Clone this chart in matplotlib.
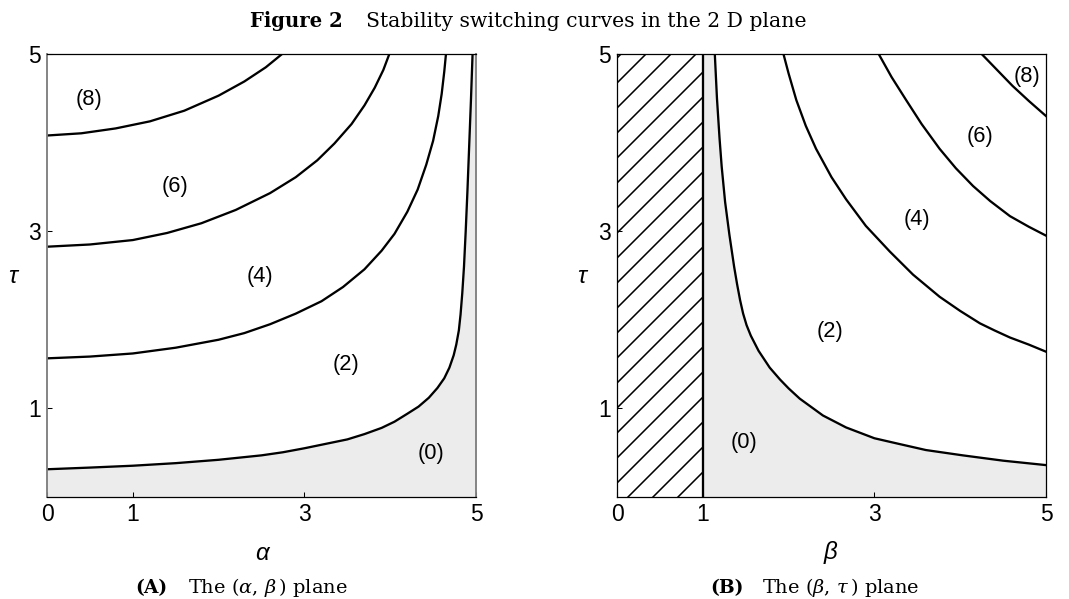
import matplotlib
matplotlib.use("Agg")
import matplotlib.pyplot as plt
import numpy as np

# ---- data ----
# panel A: tau against alpha, curves (0), (2), (4), (6)
a_c0 = [0, 0.5, 1.0, 1.5, 2.0, 2.5, 2.75, 3.0, 3.25, 3.5, 3.7, 3.9, 4.05, 4.2, 4.33, 4.45, 4.55, 4.63,
        4.69, 4.74, 4.77, 4.80, 4.82, 4.84, 4.86, 4.88, 4.90, 4.92, 4.94, 4.96]
t_c0 = [0.313, 0.332, 0.353, 0.382, 0.42, 0.47, 0.505, 0.55, 0.60, 0.65, 0.71, 0.78, 0.85, 0.94, 1.02,
        1.12, 1.23, 1.34, 1.46, 1.6, 1.72, 1.88, 2.06, 2.3, 2.6, 3.0, 3.45, 3.95, 4.45, 5.0]
a_c2 = [0, 0.5, 1.0, 1.5, 2.0, 2.3, 2.6, 2.9, 3.2, 3.45, 3.7, 3.9, 4.05, 4.2, 4.32, 4.42, 4.5, 4.56,
        4.6, 4.63, 4.65]
t_c2 = [1.565, 1.585, 1.62, 1.685, 1.775, 1.85, 1.95, 2.07, 2.21, 2.37, 2.57, 2.78, 2.97, 3.22, 3.47,
        3.75, 4.02, 4.3, 4.55, 4.8, 5.0]
a_c4 = [0, 0.5, 1.0, 1.4, 1.8, 2.2, 2.6, 2.9, 3.15, 3.35, 3.55, 3.7, 3.82, 3.92, 3.99]
t_c4 = [2.825, 2.85, 2.9, 2.98, 3.09, 3.24, 3.43, 3.61, 3.8, 3.99, 4.21, 4.42, 4.62, 4.82, 5.0]
a_c6 = [0, 0.4, 0.8, 1.2, 1.6, 2.0, 2.3, 2.55, 2.74]
t_c6 = [4.08, 4.105, 4.16, 4.24, 4.36, 4.53, 4.69, 4.85, 5.0]

# panel B: tau against beta
b_c0 = [1.14, 1.165, 1.195, 1.22, 1.26, 1.31, 1.365, 1.40, 1.435, 1.47, 1.51, 1.56, 1.65, 1.78, 1.9,
        2.0, 2.13, 2.4, 2.67, 3.0, 3.26, 3.6, 4.03, 4.5, 5.0]
tb_c0 = [5.0, 4.5, 4.05, 3.73, 3.33, 2.96, 2.6, 2.4, 2.22, 2.07, 1.94, 1.82, 1.65, 1.46, 1.326,
         1.226, 1.11, 0.92, 0.785, 0.663, 0.605, 0.53, 0.47, 0.41, 0.36]
b_c2 = [1.94, 2.0, 2.09, 2.2, 2.32, 2.5, 2.67, 2.9, 3.18, 3.45, 3.76, 4.0, 4.23, 4.4, 4.58, 4.8, 5.0]
tb_c2 = [5.0, 4.78, 4.48, 4.19, 3.93, 3.61, 3.36, 3.06, 2.77, 2.51, 2.26, 2.1, 1.96, 1.88, 1.8, 1.72, 1.64]
b_c4 = [3.05, 3.2, 3.37, 3.55, 3.76, 3.95, 4.15, 4.35, 4.58, 4.8, 5.0]
tb_c4 = [5.0, 4.74, 4.48, 4.21, 3.93, 3.71, 3.51, 3.34, 3.17, 3.05, 2.95]
b_c6 = [4.25, 4.45, 4.61, 4.8, 5.0]
tb_c6 = [5.0, 4.8, 4.64, 4.47, 4.3]

labels = ["(0)", "(2)", "(4)", "(6)", "(8)"]
lab_a = [(4.48, 0.49), (3.49, 1.49), (2.48, 2.49), (1.49, 3.5), (0.49, 4.49)]
lab_b = [(1.48, 0.61), (2.48, 1.87), (3.49, 3.13), (4.23, 4.07), (4.78, 4.75)]

xticks = [0, 1, 3, 5]
yticks = [1, 3, 5]

plt.rcParams['font.family'] = ['Liberation Sans', 'DejaVu Sans']
plt.rcParams['mathtext.fontset'] = 'dejavuserif'
plt.rcParams['hatch.linewidth'] = 0.75
plt.rcParams['hatch.color'] = 'black'

W, H = 1069, 599
fig = plt.figure(figsize=(W / 150, H / 150), dpi=150)
axA = fig.add_axes([47 / W, 102 / H, 429 / W, 443 / H])
axB = fig.add_axes([617 / W, 102 / H, 429 / W, 443 / H])

grey = '#ececec'

# panel A
axA.fill(np.r_[a_c0, 5, 5, 0], np.r_[t_c0, 5, 0, 0], color=grey, lw=0)
for xs, ys in [(a_c0, t_c0), (a_c2, t_c2), (a_c4, t_c4), (a_c6, t_c6)]:
    axA.plot(xs, ys, color='black', lw=1.1, solid_joinstyle='round')
for lab, (x, y) in zip(labels, lab_a):
    axA.text(x, y, lab, fontsize=10.5, ha='center', va='center')

# panel B
axB.fill(np.r_[1, b_c0, 5, 1], np.r_[5, tb_c0, 0, 0], color=grey, lw=0)
axB.fill_between([0, 1], 0, 5, facecolor='white', edgecolor='black', hatch='//', lw=0)
axB.axvline(1, color='black', lw=1.1)
for xs, ys in [(b_c0, tb_c0), (b_c2, tb_c2), (b_c4, tb_c4), (b_c6, tb_c6)]:
    axB.plot(xs, ys, color='black', lw=1.1, solid_joinstyle='round')
for lab, (x, y) in zip(labels, lab_b):
    axB.text(x, y, lab, fontsize=10.5, ha='center', va='center')

for ax in (axA, axB):
    ax.set_xlim(0, 5)
    ax.set_ylim(0, 5)
    ax.set_xticks(xticks)
    ax.set_yticks(yticks)
    ax.tick_params(direction='in', length=2.5, width=0.5, labelsize=11, pad=3)
    for s in ax.spines.values():
        s.set_linewidth(0.6)
for side in ('left', 'right'):
    axA.spines[side].set_color('#808080')
    axA.spines[side].set_linewidth(0.9)

# axis labels
fig.text(262 / W, 1 - 553 / H, 'α', style='italic', fontsize=11.5, ha='center', va='center')
fig.text(13 / W, 1 - 277 / H, 'τ', style='italic', fontsize=11.5, ha='center', va='center')
fig.text(830 / W, 1 - 553 / H, 'β', style='italic', fontsize=11.5, ha='center', va='center')
fig.text(582 / W, 1 - 277 / H, 'τ', style='italic', fontsize=11.5, ha='center', va='center')

# title and captions
fig.text(343 / W, 1 - 27 / H, 'Figure 2', family='DejaVu Serif', weight='bold', fontsize=9.4,
         ha='right', va='baseline')
fig.text(366 / W, 1 - 27 / H, 'Stability switching curves in the 2 D plane', family='DejaVu Serif',
         fontsize=9.8, ha='left', va='baseline')
fig.text(167 / W, 1 - 593 / H, '(A)', family='DejaVu Serif', weight='bold', fontsize=9.0,
         ha='right', va='baseline')
fig.text(188 / W, 1 - 593 / H, r'The $(\alpha,\,\beta\,)$ plane', family='DejaVu Serif', fontsize=9.3,
         ha='left', va='baseline')
fig.text(744 / W, 1 - 593 / H, '(B)', family='DejaVu Serif', weight='bold', fontsize=9.0,
         ha='right', va='baseline')
fig.text(762 / W, 1 - 593 / H, r'The $(\beta,\,\tau\,)$ plane', family='DejaVu Serif', fontsize=9.3,
         ha='left', va='baseline')

fig.savefig('out.png', dpi=150)
